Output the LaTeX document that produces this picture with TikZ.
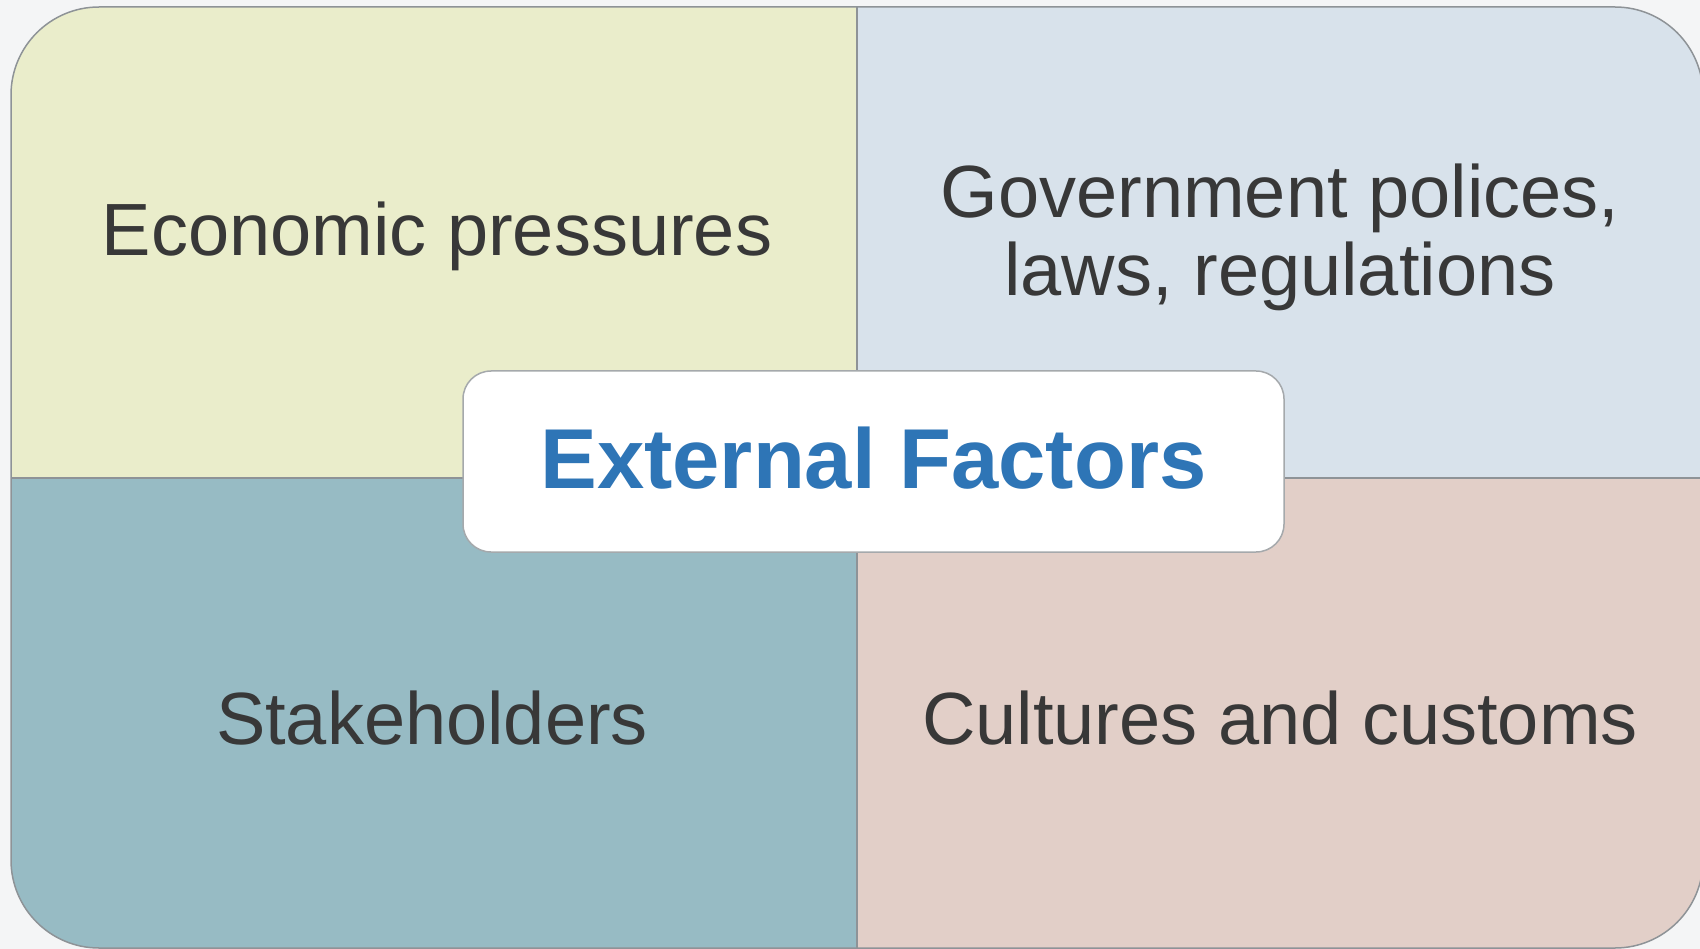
\documentclass[tikz,border=0pt]{standalone}
\usepackage{fontspec}
\setmainfont{Liberation Sans}
\definecolor{bgc}{HTML}{F4F5F6}
\definecolor{tlc}{HTML}{EAEDCB}
\definecolor{trc}{HTML}{D8E2EB}
\definecolor{blc}{HTML}{97BBC4}
\definecolor{brc}{HTML}{E2CFC8}
\definecolor{txtc}{HTML}{383838}
\definecolor{bluec}{HTML}{2E75B6}
\definecolor{linec}{HTML}{8E9397}
\tikzset{
  quadtext/.style={font=\fontsize{74}{78}\selectfont, text=txtc, inner sep=0pt},
  divider/.style={draw=linec, line width=1.8pt},
  centerbox/.style={draw=linec!80, line width=1.5pt, fill=white, rounded corners=28pt,
    minimum width=821pt, minimum height=181pt, inner sep=0pt,
    font=\fontsize{85}{90}\selectfont\bfseries, text=bluec,
    text height=63pt, text depth=10pt}
}
\begin{document}
\begin{tikzpicture}[x=1pt,y=-1pt]
\useasboundingbox (0,0) rectangle (1700,949);
\fill[bgc] (0,0) rectangle (1700,949);
\begin{scope}
  \clip[rounded corners=88pt] (11,7) rectangle (1703,948);
  \fill[tlc] (0,0) rectangle (857,478);
  \fill[trc] (857,0) rectangle (1710,478);
  \fill[blc] (0,478) rectangle (857,960);
  \fill[brc] (857,478) rectangle (1710,960);
\end{scope}
\coordinate (vtop) at (857,7);
\coordinate (vbot) at (857,948);
\coordinate (hleft) at (11,478);
\coordinate (hright) at (1703,478);
\draw[divider] (vtop) -- (vbot);
\draw[divider] (hleft) -- (hright);
\draw[draw=linec, line width=1.5pt, rounded corners=88pt] (11,7) rectangle (1703,948);

\node[quadtext, anchor=base] (econ) at (437,256) {Economic pressures};
\node[quadtext, anchor=center, align=center] (gov) at (1280,237) {Government polices,\\laws, regulations};
\node[quadtext, anchor=base] (stake) at (432,744) {Stakeholders};
\node[quadtext, anchor=base] (cult) at (1280,744) {Cultures and customs};

\node[centerbox] (ext) at (873.5,461.5) {External Factors};
\end{tikzpicture}
\end{document}
